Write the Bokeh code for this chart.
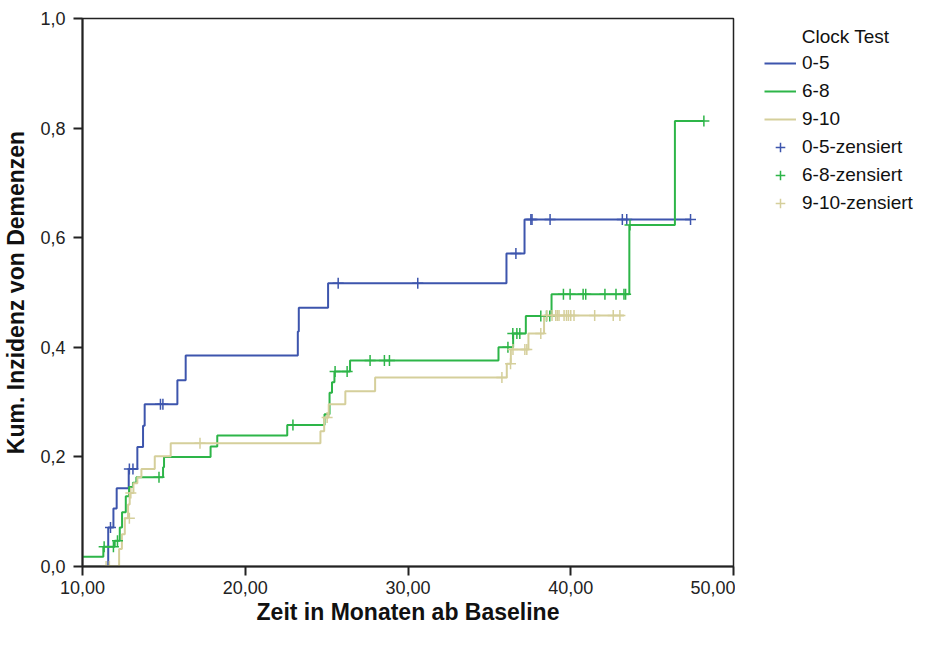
from bokeh.plotting import figure
from bokeh.layouts import row
from bokeh.models import FixedTicker, Legend, LegendItem, Label, Range1d
from bokeh.embed import file_html
from bokeh.resources import INLINE

# ---- data ----
groups = ["0-5", "6-8", "9-10"]

blue_t = [10.0, 11.58, 11.90, 12.10, 12.84, 13.37, 13.72, 13.82, 15.83, 16.34,
          23.23, 23.29, 25.09, 36.05, 37.16, 47.36]
blue_y = [0.0, 0.071, 0.106, 0.143, 0.178, 0.218, 0.257, 0.296, 0.340, 0.385,
          0.429, 0.472, 0.517, 0.571, 0.633, 0.633]
blue_cens_t = [11.72, 12.88, 13.10, 14.79, 14.94, 25.71, 30.60, 36.63, 37.55,
               37.62, 38.73, 43.17, 43.44, 47.36]
blue_cens_y = [0.071, 0.178, 0.178, 0.296, 0.296, 0.517, 0.517, 0.571, 0.633,
               0.633, 0.633, 0.633, 0.633, 0.633]

green_t = [10.0, 11.28, 11.98, 12.29, 12.43, 12.66, 12.86, 13.10, 13.31, 14.95,
           15.01, 17.87, 18.28, 22.58, 24.87, 25.18, 25.33, 25.48, 26.44, 35.56,
           36.46, 37.24, 38.82, 43.60, 46.40, 48.18]
green_y = [0.018, 0.036, 0.047, 0.071, 0.099, 0.128, 0.145, 0.153, 0.163, 0.181,
           0.200, 0.219, 0.239, 0.258, 0.278, 0.317, 0.336, 0.356, 0.376, 0.400,
           0.425, 0.457, 0.497, 0.623, 0.813, 0.813]
green_cens_t = [11.33, 11.90, 12.15, 14.70, 22.93, 25.52, 26.26, 27.67, 28.55,
                28.86, 36.14, 36.44, 36.69, 36.87, 38.16, 38.51, 38.71, 39.55,
                39.96, 40.76, 40.92, 42.10, 42.78, 43.27, 43.37, 43.64, 48.18]
green_cens_y = [0.036, 0.036, 0.047, 0.163, 0.258, 0.356, 0.356, 0.376, 0.376,
                0.376, 0.400, 0.425, 0.425, 0.425, 0.457, 0.457, 0.457, 0.497,
                0.497, 0.497, 0.497, 0.497, 0.497, 0.497, 0.497, 0.623, 0.813]

tan_t = [10.0, 12.25, 12.42, 12.60, 12.80, 12.90, 13.13, 13.37, 13.62, 14.44,
         15.42, 24.62, 24.85, 25.13, 26.15, 27.98, 36.07, 36.32, 37.40, 38.36,
         43.27]
tan_y = [0.0, 0.032, 0.059, 0.088, 0.113, 0.134, 0.152, 0.163, 0.178, 0.201,
         0.225, 0.247, 0.272, 0.296, 0.320, 0.345, 0.370, 0.396, 0.425, 0.458,
         0.458]
tan_cens_t = [11.45, 11.65, 12.88, 12.97, 17.22, 25.03, 35.77, 36.30, 36.45,
              37.18, 37.30, 38.16, 38.53, 38.85, 39.08, 39.18, 39.28, 39.59,
              39.74, 39.86, 40.00, 40.20, 41.47, 42.61, 43.02]
tan_cens_y = [0.0, 0.0, 0.088, 0.134, 0.225, 0.272, 0.345, 0.370, 0.396,
              0.396, 0.396, 0.425, 0.458, 0.458, 0.458, 0.458, 0.458, 0.458,
              0.458, 0.458, 0.458, 0.458, 0.458, 0.458, 0.458]

x_ticks = [10, 20, 30, 40, 50]
x_tick_labels = ["10,00", "20,00", "30,00", "40,00", "50,00"]
y_ticks = [0.0, 0.2, 0.4, 0.6, 0.8, 1.0]
y_tick_labels = ["0,0", "0,2", "0,4", "0,6", "0,8", "1,0"]

legend_title = "Clock Test"
x_title = "Zeit in Monaten ab Baseline"
y_title = "Kum. Inzidenz von Demenzen"

colors = ["#3D55AD", "#2DB548", "#D5CF9B"]
FONT = "Liberation Sans"

# ---- layout numbers (pixels) ----
W, H = 918, 630
LEFT, TOP, BOTTOM, RIGHT = 81, 18, 64, 2
PLOT_W = 652
MAIN_W = LEFT + PLOT_W + RIGHT
LEG_W = W - MAIN_W
FRAME_BOTTOM = H - BOTTOM

p = figure(width=MAIN_W, height=H,
           x_range=Range1d(x_ticks[0], x_ticks[-1]), y_range=Range1d(y_ticks[0], y_ticks[-1]),
           output_backend="svg", toolbar_location=None,
           min_border_left=LEFT, min_border_right=RIGHT,
           min_border_top=TOP, min_border_bottom=BOTTOM)
p.xgrid.visible = False
p.ygrid.visible = False
p.outline_line_color = "#222222"
p.outline_line_width = 1.5
p.background_fill_color = "white"
p.border_fill_color = "white"

for ax, ticks, labels in ((p.xaxis[0], x_ticks, x_tick_labels),
                          (p.yaxis[0], y_ticks, y_tick_labels)):
    ax.ticker = FixedTicker(ticks=ticks)
    ax.major_label_overrides = {t: l for t, l in zip(ticks, labels)}
    ax.minor_tick_line_color = None
    ax.major_tick_in = 0
    ax.major_tick_out = 9
    ax.major_tick_line_width = 2
    ax.axis_line_width = 2
    ax.axis_line_color = "#222222"
    ax.major_tick_line_color = "#222222"
    ax.major_label_text_font = FONT
    ax.major_label_text_font_size = "18px"
    ax.major_label_text_color = "#222222"
    ax.axis_label_text_font = FONT
    ax.axis_label_text_font_style = "bold"
    ax.axis_label_text_font_size = "23px"
    ax.axis_label_text_color = "#111111"

p.xaxis.axis_label = x_title
p.yaxis.axis_label = y_title
p.xaxis.major_label_standoff = 5
p.xaxis.axis_label_standoff = 2
p.yaxis.major_label_standoff = 8
p.yaxis.axis_label_standoff = 8

series = [
    (blue_t, blue_y, blue_cens_t, blue_cens_y),
    (green_t, green_y, green_cens_t, green_cens_y),
    (tan_t, tan_y, tan_cens_t, tan_cens_y),
]

for (t, y, ct, cy), c in zip(series, colors):
    p.step(t, y, mode="after", line_color=c, line_width=2)
for (t, y, ct, cy), c in zip(series, colors):
    p.scatter(ct, cy, marker="cross", size=11, line_color=c, line_width=1.5)

# ---- legend panel (separate figure to the right of the plot) ----
q = figure(width=LEG_W, height=H, x_range=Range1d(0, 1), y_range=Range1d(0, 1),
           output_backend="svg", toolbar_location=None,
           min_border_left=0, min_border_right=0,
           min_border_top=TOP, min_border_bottom=BOTTOM)
q.axis.visible = False
q.xgrid.visible = False
q.ygrid.visible = False
q.outline_line_color = None
q.background_fill_color = "white"
q.border_fill_color = "white"

# same series, styled identically; they fall outside this panel's ranges, so only
# their legend entries show here
line_rs = [q.step(t, y, mode="after", line_color=c, line_width=2)
           for (t, y, ct, cy), c in zip(series, colors)]
cens_rs = [q.scatter(ct, cy, marker="cross", size=11, line_color=c, line_width=1.5)
           for (t, y, ct, cy), c in zip(series, colors)]

items = [LegendItem(label=g, renderers=[r]) for g, r in zip(groups, line_rs)]
items += [LegendItem(label=g + "-zensiert", renderers=[r]) for g, r in zip(groups, cens_rs)]

# legend block: left edge at 764 px of the page, rows centred from 63 px down (28 px pitch)
leg_left, leg_top, n_rows = 764, 51, len(items)
leg_h = n_rows * 24 + (n_rows - 1) * 4
legend = Legend(items=items, location=(leg_left - MAIN_W, FRAME_BOTTOM - (leg_top + leg_h)),
                padding=0, margin=0,
                glyph_width=32, glyph_height=24, label_height=24, spacing=4,
                label_standoff=6, label_text_font=FONT, label_text_font_size="19px",
                label_text_color="#111111",
                border_line_alpha=0, background_fill_alpha=0)
q.add_layout(legend, "center")

title_lbl = Label(x=845 - MAIN_W, y=FRAME_BOTTOM - 36, x_units="screen", y_units="screen",
                  text=legend_title, text_align="center", text_baseline="middle",
                  text_font=FONT, text_font_size="19px", text_color="#111111")
q.add_layout(title_lbl)

layout = row(p, q, spacing=0)
open("out.html", "w").write(file_html(layout, INLINE))
